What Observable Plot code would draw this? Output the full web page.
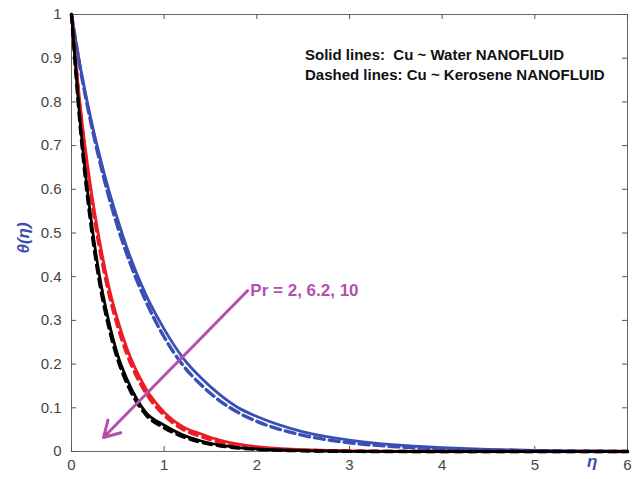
<!DOCTYPE html>
<html>
<head>
<meta charset="utf-8">
<script src="https://cdn.jsdelivr.net/npm/d3@7"></script>
<script src="https://cdn.jsdelivr.net/npm/@observablehq/plot@0.6"></script>
<style>
  html, body { margin: 0; padding: 0; background: #fff; }
  #chart svg { display: block; }
</style>
</head>
<body>
<div id="chart"></div>
<script>
// Similarity variable η
const eta = [0, 0.1, 0.2, 0.3, 0.4, 0.5, 0.6, 0.8, 1.0, 1.2, 1.4, 1.6, 1.8, 2.0, 2.5, 3.0, 3.5, 4.0, 4.5, 5.0, 5.5, 6.0];

// θ(η) for Cu–Water nanofluid (solid lines)
const waterPr2   = [1, 0.875, 0.770, 0.680, 0.600, 0.530, 0.465, 0.360, 0.280, 0.215, 0.168, 0.130, 0.100, 0.080, 0.045, 0.026, 0.015, 0.009, 0.005, 0.0025, 0.001, 0];
const waterPr62  = [1, 0.780, 0.615, 0.485, 0.380, 0.300, 0.235, 0.145, 0.090, 0.057, 0.040, 0.026, 0.017, 0.011, 0.004, 0.0015, 0.0005, 0, 0, 0, 0, 0];
const waterPr10  = [1, 0.740, 0.550, 0.405, 0.300, 0.220, 0.165, 0.090, 0.060, 0.038, 0.024, 0.015, 0.009, 0.006, 0.002, 0.0005, 0, 0, 0, 0, 0, 0];

// θ(η) for Cu–Kerosene nanofluid (dashed lines)
const keroPr2    = [1, 0.870, 0.762, 0.668, 0.585, 0.513, 0.450, 0.345, 0.262, 0.198, 0.152, 0.116, 0.089, 0.069, 0.037, 0.020, 0.011, 0.006, 0.003, 0.0015, 0.0007, 0];
const keroPr62   = [1, 0.770, 0.600, 0.468, 0.365, 0.285, 0.222, 0.135, 0.083, 0.051, 0.034, 0.022, 0.014, 0.009, 0.003, 0.001, 0.0003, 0, 0, 0, 0, 0];
const keroPr10   = [1, 0.730, 0.535, 0.390, 0.287, 0.210, 0.155, 0.085, 0.054, 0.034, 0.021, 0.013, 0.008, 0.005, 0.0015, 0.0003, 0, 0, 0, 0, 0, 0];

const xTicks = [0, 1, 2, 3, 4, 5, 6];
const yTicks = [0, 0.1, 0.2, 0.3, 0.4, 0.5, 0.6, 0.7, 0.8, 0.9, 1];

const legendLines = ["Solid lines:  Cu ~ Water NANOFLUID", "Dashed lines: Cu ~ Kerosene NANOFLUID"];
const prLabel = "Pr = 2, 6.2, 10";

const BLUE = "#3a4fb4";
const RED = "#ee1c25";
const BLACK = "#000000";
const PURPLE = "#b44fae";

const W = 640, H = 479;
const M = {left: 71, right: 13, top: 14, bottom: 28};
const frameW = W - M.left - M.right;
const frameH = H - M.top - M.bottom;
const TICK = 5;

const series = [
  {values: waterPr2,  color: BLUE,  dash: null},
  {values: keroPr2,   color: BLUE,  dash: "10,5"},
  {values: waterPr62, color: RED,   dash: null},
  {values: keroPr62,  color: RED,   dash: "8,6"},
  {values: waterPr10, color: BLACK, dash: null},
  {values: keroPr10,  color: BLACK, dash: "8,6"}
];

const lineMarks = series.map(s =>
  Plot.line(eta.map((e, i) => ({eta: e, theta: s.values[i]})), {
    x: "eta", y: "theta",
    stroke: s.color,
    strokeWidth: s.dash ? 3.4 : 2.8,
    strokeDasharray: s.dash || undefined,
    curve: "monotone-x"
  })
);

// inward tick marks on all four sides
const tickColor = "#555";
const tickMarks = [
  Plot.ruleY(yTicks, {stroke: tickColor, insetRight: frameW - TICK}),
  Plot.ruleY(yTicks, {stroke: tickColor, insetLeft: frameW - TICK}),
  Plot.ruleX(xTicks, {stroke: tickColor, insetTop: frameH - TICK}),
  Plot.ruleX(xTicks, {stroke: tickColor, insetBottom: frameH - TICK})
];

const chart = Plot.plot({
  width: W,
  height: H,
  marginLeft: M.left,
  marginRight: M.right,
  marginTop: M.top,
  marginBottom: M.bottom,
  style: {fontFamily: "'Liberation Sans', Arial, sans-serif", background: "#fff"},
  x: {domain: [0, 6]},
  y: {domain: [0, 1]},
  marks: [
    Plot.frame({stroke: "#666", strokeWidth: 1}),
    ...tickMarks,
    Plot.axisX(xTicks, {anchor: "bottom", tickSize: 0, tickPadding: 8, color: "#444", fontSize: 15, label: null}),
    Plot.axisY(yTicks, {anchor: "left", tickSize: 0, tickPadding: 10, color: "#444", fontSize: 15, label: null, tickFormat: d => String(d)}),
    ...lineMarks,
    Plot.arrow([{x1: 1.9, y1: 0.368, x2: 0.345, y2: 0.032}], {
      x1: "x1", y1: "y1", x2: "x2", y2: "y2",
      stroke: PURPLE, strokeWidth: 3, headLength: 9, headAngle: 60
    }),
    Plot.text([prLabel], {
      x: 1.93, y: 0.368, text: d => d, textAnchor: "start",
      fill: PURPLE, fontWeight: "bold", fontSize: 17
    }),
    Plot.text(legendLines, {
      x: 2.52, y: (d, i) => 0.906 - i * 0.044, text: d => d, textAnchor: "start",
      fill: "#111", fontWeight: "bold", fontSize: 15
    }),
    Plot.text(["θ(η)"], {
      frameAnchor: "left", textAnchor: "middle", dx: -48, dy: 5, rotate: -90, text: d => d,
      fill: BLUE, fontWeight: "bold", fontStyle: "italic", fontSize: 17
    }),
    Plot.text(["η"], {
      frameAnchor: "bottom-right", dx: -30, dy: 15, text: d => d,
      fill: BLUE, fontWeight: "bold", fontStyle: "italic", fontSize: 17
    })
  ]
});

document.getElementById("chart").appendChild(chart);
</script>
</body>
</html>
